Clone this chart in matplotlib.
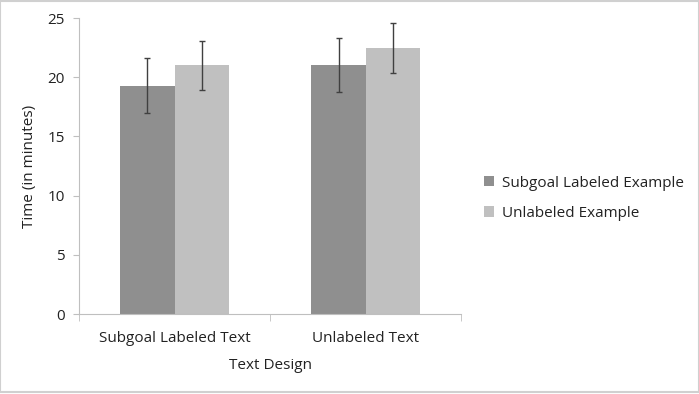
import numpy as np
import matplotlib.pyplot as plt
from matplotlib.patches import Rectangle

plt.rcParams['font.family'] = ['Open Sans', 'DejaVu Sans']

categories = ['Subgoal Labeled Text', 'Unlabeled Text']
series = ['Subgoal Labeled Example', 'Unlabeled Example']
means_subgoal = [19.3, 21.05]
means_unlabeled = [21.0, 22.45]
err_subgoal = [2.3, 2.3]
err_unlabeled = [2.1, 2.1]
colors = ['#8f8f8f', '#c0c0c0']

fig = plt.figure(figsize=(6.99, 3.94), dpi=100)
ax = fig.add_axes([0.113, 0.203, 0.547, 0.751])

x = np.arange(len(categories))
w = 0.285
for i, (vals, errs) in enumerate([(means_subgoal, err_subgoal), (means_unlabeled, err_unlabeled)]):
    pos = x + (i - 0.5) * w
    ax.bar(pos, vals, w, color=colors[i], label=series[i], zorder=2)
    ax.errorbar(pos, vals, yerr=errs, fmt='none', ecolor='#404040',
                elinewidth=1, capsize=2.5, capthick=1, zorder=3)

ax.set_xlim(-0.5, 1.5)
ax.set_ylim(0, 25)
ax.set_yticks([0, 5, 10, 15, 20, 25])
ax.set_xticks(x)
ax.set_xticklabels(categories)
ax.set_xticks([-0.5, 0.5, 1.5], minor=True)
ax.tick_params(axis='x', which='major', length=0, pad=12, labelsize=11, colors='#222222')
ax.tick_params(axis='x', which='minor', length=5, color='#bfbfbf')
ax.tick_params(axis='y', length=4, color='#bfbfbf', labelsize=11, labelcolor='#222222', pad=6)

for s in ['top', 'right']:
    ax.spines[s].set_visible(False)
for s in ['left', 'bottom']:
    ax.spines[s].set_color('#bfbfbf')

ax.set_xlabel('Text Design', fontsize=11, color='#222222', labelpad=9)
ax.set_ylabel('Time (in minutes)', fontsize=11, color='#222222', labelpad=8)

ax.legend(loc='center left', bbox_to_anchor=(0.693, 0.497), bbox_transform=fig.transFigure,
          frameon=False, borderpad=0, borderaxespad=0,
          fontsize=11, handlelength=0.65, handleheight=0.65, handletextpad=0.5,
          labelspacing=1.0, labelcolor='#222222')

fig.patches.append(Rectangle((0, 0.004), 1, 0.993, transform=fig.transFigure,
                             fill=False, edgecolor='#d0d0d0', linewidth=1.5))

fig.savefig('out.png', dpi=100)
